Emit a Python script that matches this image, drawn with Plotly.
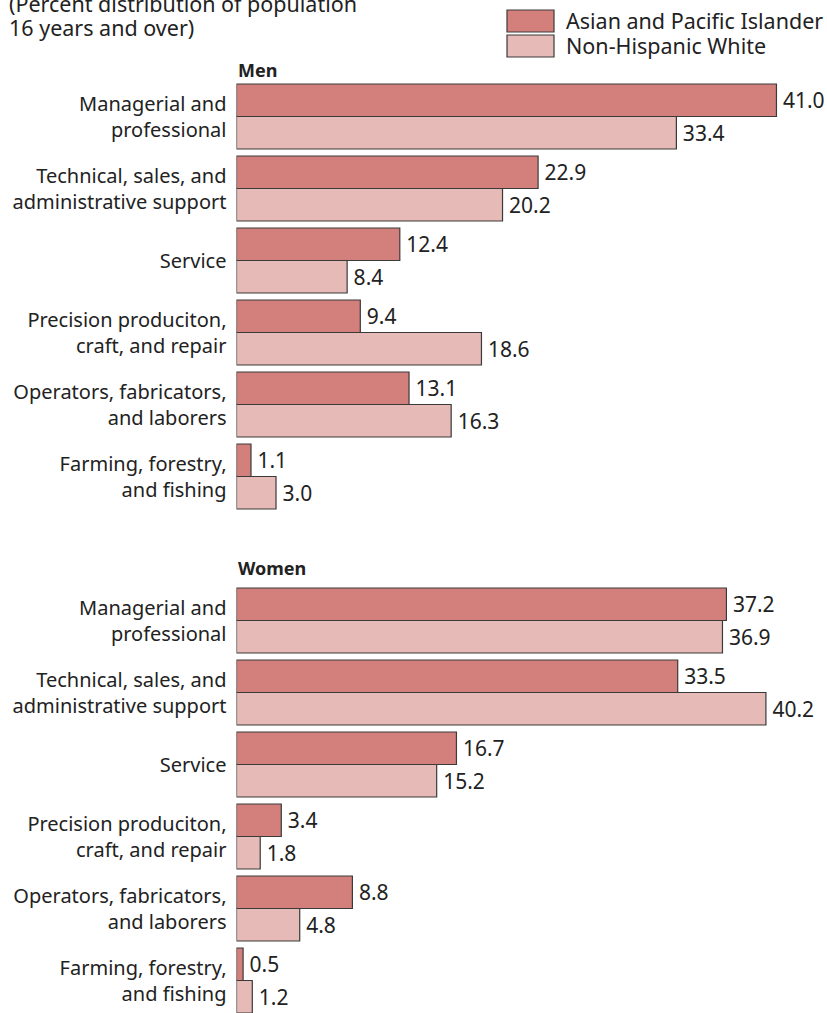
import plotly.graph_objects as go

categories = [
    "Managerial and<br>professional",
    "Technical, sales, and<br>administrative support",
    "Service",
    "Precision produciton,<br>craft, and repair",
    "Operators, fabricators,<br>and laborers",
    "Farming, forestry,<br>and fishing",
]
series_names = ["Asian and Pacific Islander", "Non-Hispanic White"]
men_asian = [41.0, 22.9, 12.4, 9.4, 13.1, 1.1]
men_white = [33.4, 20.2, 8.4, 18.6, 16.3, 3.0]
women_asian = [37.2, 33.5, 16.7, 3.4, 8.8, 0.5]
women_white = [36.9, 40.2, 15.2, 1.8, 4.8, 1.2]
panel_titles = ["Men", "Women"]
subtitle_lines = ["(Percent distribution of population", "16 years and over)"]

colors = ["#D3807D", "#E6BAB6"]
edge = "#3a3a3a"
FONT = "Noto Sans"
TXT = "#222"
W, H = 827, 1013

fig = go.Figure()

def add_panel(vals_a, vals_w, yaxis):
    for name, vals, col in [(series_names[0], vals_a, colors[0]), (series_names[1], vals_w, colors[1])]:
        fig.add_trace(go.Bar(
            x=vals, y=categories, orientation="h", name=name,
            marker=dict(color=col, line=dict(color=edge, width=1.2)),
            text=["\u2009" + f"{v:.1f}" for v in vals], textposition="outside",
            textfont=dict(family=FONT, size=21, color=TXT),
            cliponaxis=False, showlegend=False, hoverinfo="skip",
            xaxis="x", yaxis=yaxis,
        ))

add_panel(men_asian, men_white, "y")
add_panel(women_asian, women_white, "y2")

px_per = 13.17
x0 = 236.5
xrange_max = (W - x0) / px_per

def py(p):
    return 1 - p / H

pitch = 72.0
men_top, men_bot = 80.5, 80.5 + 6 * pitch
wom_top = 584.5
wom_cats = (H - wom_top) / pitch

axis_common = dict(showgrid=False, zeroline=False, showline=False, ticks="",
                   automargin=False,
                   tickfont=dict(family=FONT, size=20, color=TXT),
                   ticklabelstandoff=9)

fig.update_layout(
    width=W, height=H,
    margin=dict(l=0, r=0, t=0, b=0, pad=0),
    paper_bgcolor="white", plot_bgcolor="white",
    barmode="group", bargap=7 / 72, bargroupgap=0,
    font=dict(family=FONT, size=20, color=TXT),
    xaxis=dict(domain=[x0 / W, 1], range=[0, xrange_max], visible=False, anchor="y", automargin=False),
    yaxis=dict(domain=[py(men_bot), py(men_top)], range=[5.5, -0.5], anchor="x", **axis_common),
    yaxis2=dict(domain=[0, py(wom_top)], range=[-0.5 + wom_cats, -0.5], anchor="x", **axis_common),
    showlegend=False,
)

# panel titles
for t, ypx in zip(panel_titles, [70, 568]):
    fig.add_annotation(x=x0 / W, y=py(ypx), xref="paper", yref="paper", text=f"<b>{t}</b>",
                       showarrow=False, xanchor="left", yanchor="middle", borderpad=0,
                       font=dict(family=FONT, size=18, color=TXT))

# subtitle
for line, ypx in zip(subtitle_lines, [4, 28]):
    fig.add_annotation(x=8 / W, y=py(ypx), xref="paper", yref="paper", text=line,
                       showarrow=False, xanchor="left", yanchor="middle", borderpad=0,
                       font=dict(family=FONT, size=21.5, color=TXT))

# legend (manual)
for i, (name, col) in enumerate(zip(series_names, colors)):
    top = 10 + i * 25
    fig.add_shape(type="rect", xref="paper", yref="paper",
                  x0=507 / W, x1=554 / W, y0=py(top + 22), y1=py(top),
                  fillcolor=col, line=dict(color=edge, width=1.2))
    fig.add_annotation(x=565 / W, y=py(top + 11), xref="paper", yref="paper", text=name,
                       showarrow=False, xanchor="left", yanchor="middle", borderpad=0,
                       font=dict(family=FONT, size=21.5, color=TXT))

fig.write_html("out.html", config={"displayModeBar": False},
               post_script="document.body.style.margin='0';document.body.style.overflow='hidden';")
